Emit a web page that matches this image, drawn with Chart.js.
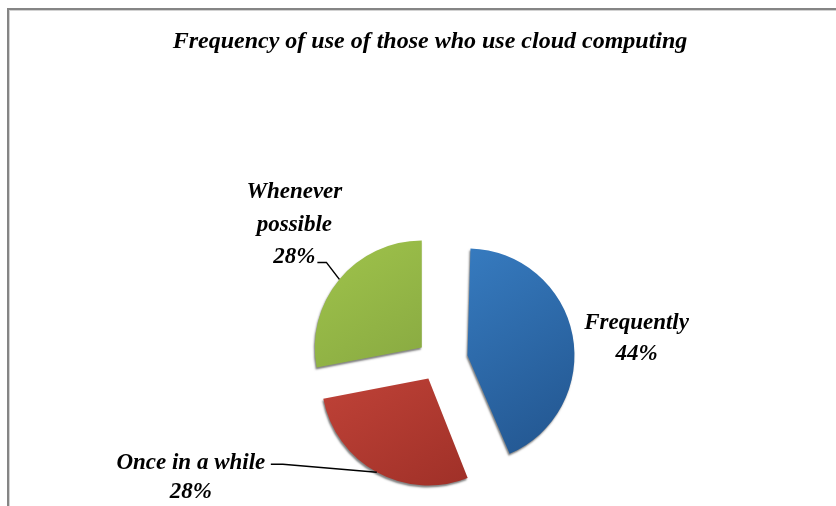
<!DOCTYPE html>
<html>
<head>
<meta charset="utf-8">
<title>Cloud computing use</title>
<script src="https://cdn.jsdelivr.net/npm/chart.js@4/dist/chart.umd.min.js"></script>
<style>
  html, body { margin: 0; padding: 0; background: #fff; overflow: hidden; }
  #frame {
    position: absolute; left: 7px; top: 8px; width: 860px; height: 520px;
    border-top: 2px solid #858585; border-left: 2px solid #858585;
    box-shadow: inset 1px 1px 0 #d2d2d2;
  }
  #wrap { position: absolute; left: 0; top: 0; width: 836px; height: 506px; }
</style>
</head>
<body>
<div id="frame"></div>
<div id="wrap"><canvas id="usechart" width="836" height="506"></canvas></div>
<script>
var chartTitle = 'Frequency of use of those who use cloud computing';
var categories = ['Frequently', 'Once in a while', 'Whenever possible'];
var labelLines = [['Frequently'], ['Once in a while'], ['Whenever', 'possible']];
var shares = [44, 28, 28];

// top-left / bottom-right shade of each slice
var sliceShades = [
  ['#3d87cf', '#21538c'],
  ['#d44e42', '#982c24'],
  ['#a2c64c', '#76953a']
];
// how far each slice is pulled out (chart.js moves it offset/4 px)
var sliceOffsets = [120, 80, 84];
var pieRadius = 107;

// label text position and leader line, relative to the slice rim point
var labelPlacement = [
  { dx: 64, dy: -12, gap: 31, leader: null },
  { dx: -186, dy: -9, gap: 29, leader: [[-94, -8], [-106, -8]] },
  { dx: -45, dy: -87, gap: 32.5, leader: [[-13, -17], [-22, -17]] }
];

var titleFont = 'italic bold 24px "Liberation Serif", "DejaVu Serif", serif';
var labelFont = 'italic bold 23px "Liberation Serif", "DejaVu Serif", serif';

function shade(c) {
  var area = c.chart.chartArea;
  if (!area) return sliceShades[c.dataIndex][0];
  var cx = (area.left + area.right) / 2;
  var cy = (area.top + area.bottom) / 2;
  var g = c.chart.ctx.createLinearGradient(cx - pieRadius, cy - pieRadius - 20, cx + pieRadius * 0.6, cy + pieRadius + 30);
  g.addColorStop(0, sliceShades[c.dataIndex][0]);
  g.addColorStop(1, sliceShades[c.dataIndex][1]);
  return g;
}

// chart.js grows a pulled-out slice's radius; pull it back so all slices share one radius
var keepRadius = {
  id: 'keepRadius',
  afterDatasetsUpdate: function(chart) {
    chart.getDatasetMeta(0).data.forEach(function(arc) {
      var off = (arc.options.offset || 0) / 4;
      var fix = 1 - Math.sin(Math.min(Math.PI, arc.circumference));
      arc.outerRadius = pieRadius - off * fix;
    });
  }
};

var sliceShadow = {
  id: 'sliceShadow',
  beforeDatasetsDraw: function(chart) {
    var ctx = chart.ctx;
    ctx.save();
    ctx.shadowColor = 'rgba(0,0,0,0.5)';
    ctx.shadowBlur = 2;
    ctx.shadowOffsetX = -1;
    ctx.shadowOffsetY = 2;
  },
  afterDatasetsDraw: function(chart) {
    chart.ctx.restore();
  }
};

var sliceLabels = {
  id: 'sliceLabels',
  afterDraw: function(chart) {
    var ctx = chart.ctx;
    ctx.save();

    // title
    ctx.font = titleFont;
    ctx.fillStyle = '#000';
    ctx.textAlign = 'center';
    ctx.textBaseline = 'middle';
    ctx.fillText(chartTitle, 430, 42);

    ctx.font = labelFont;
    ctx.strokeStyle = '#000';
    ctx.lineWidth = 1.5;
    chart.getDatasetMeta(0).data.forEach(function(arc, i) {
      var mid = (arc.startAngle + arc.endAngle) / 2;
      var shift = (arc.options.offset || 0) / 4;
      var ax = arc.x + Math.cos(mid) * (pieRadius + shift);
      var ay = arc.y + Math.sin(mid) * (pieRadius + shift);
      var place = labelPlacement[i];

      if (place.leader) {
        ctx.beginPath();
        ctx.moveTo(ax, ay);
        place.leader.forEach(function(p) { ctx.lineTo(ax + p[0], ay + p[1]); });
        ctx.stroke();
      }

      var lines = labelLines[i].concat([shares[i] + '%']);
      lines.forEach(function(t, k) {
        ctx.fillText(t, ax + place.dx, ay + place.dy + k * place.gap);
      });
    });
    ctx.restore();
  }
};

new Chart(document.getElementById('usechart'), {
  type: 'pie',
  data: {
    labels: categories,
    datasets: [{
      data: shares,
      backgroundColor: shade,
      borderWidth: 0,
      offset: sliceOffsets,
      radius: pieRadius
    }]
  },
  options: {
    responsive: false,
    animation: false,
    events: [],
    layout: { padding: { left: 40, right: 0, top: 216, bottom: 0 } },
    plugins: {
      legend: { display: false },
      title: { display: false },
      tooltip: { enabled: false }
    }
  },
  plugins: [keepRadius, sliceShadow, sliceLabels]
});
</script>
</body>
</html>
